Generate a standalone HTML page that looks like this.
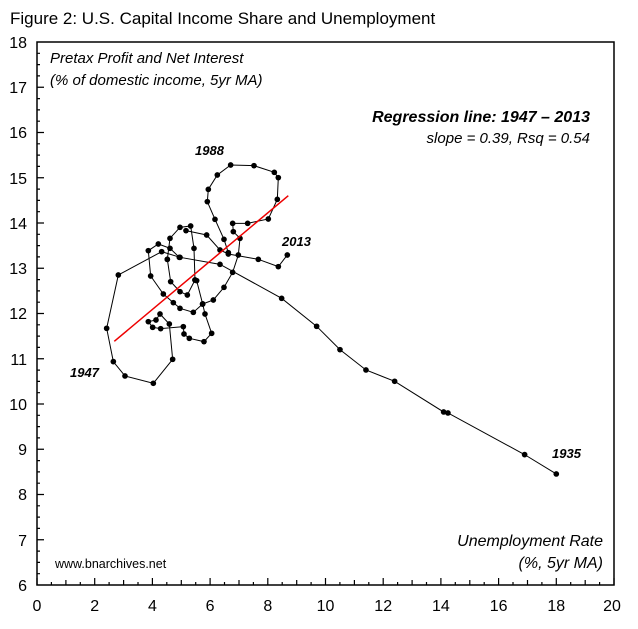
<!DOCTYPE html>
<html><head><meta charset="utf-8"><style>
body{margin:0;background:#fff}
svg{display:block;font-family:"Liberation Sans",Arial,sans-serif}
</style></head><body>
<svg width="638" height="629" viewBox="0 0 638 629" xmlns="http://www.w3.org/2000/svg">
<defs>
<marker id="dot" markerUnits="userSpaceOnUse" markerWidth="20" markerHeight="20" refX="10" refY="10" viewBox="0 0 20 20">
<circle cx="10" cy="10" r="8.5" fill="#000"/>
</marker>
</defs>
<rect width="638" height="629" fill="#fff"/>
<text x="10" y="24" font-size="17">Figure 2: U.S. Capital Income Share and Unemployment</text>
<rect x="37" y="42" width="577" height="543" fill="none" stroke="#000" stroke-width="1.5"/>
<g stroke="#000" stroke-width="1.2" fill="none">
<path d="M37 585v-7M51.4 585v-3M65.9 585v-5M80.3 585v-3M94.7 585v-7M109.1 585v-3M123.6 585v-5M138 585v-3M152.4 585v-7M166.8 585v-3M181.3 585v-5M195.7 585v-3M210.1 585v-7M224.5 585v-3M239 585v-5M253.4 585v-3M267.8 585v-7M282.2 585v-3M296.7 585v-5M311.1 585v-3M325.5 585v-7M339.9 585v-3M354.4 585v-5M368.8 585v-3M383.2 585v-7M397.6 585v-3M412.1 585v-5M426.5 585v-3M440.9 585v-7M455.3 585v-3M469.8 585v-5M484.2 585v-3M498.6 585v-7M513 585v-3M527.5 585v-5M541.9 585v-3M556.3 585v-7M570.7 585v-3M585.2 585v-5M599.6 585v-3M614 585v-7"/>
<path d="M37 573.7h3M37 562.4h3M37 551.1h3M37 539.75h7M37 528.4h3M37 517.1h3M37 505.8h3M37 494.5h7M37 483.2h3M37 471.9h3M37 460.6h3M37 449.25h7M37 437.9h3M37 426.6h3M37 415.3h3M37 404h7M37 392.7h3M37 381.4h3M37 370.1h3M37 358.75h7M37 347.4h3M37 336.1h3M37 324.8h3M37 313.5h7M37 302.2h3M37 290.9h3M37 279.6h3M37 268.25h7M37 256.9h3M37 245.6h3M37 234.3h3M37 223h7M37 211.7h3M37 200.4h3M37 189.1h3M37 177.75h7M37 166.4h3M37 155.1h3M37 143.8h3M37 132.5h7M37 121.2h3M37 109.9h3M37 98.6h3M37 87.25h7M37 75.9h3M37 64.6h3M37 53.3h3"/>
</g>
<g font-size="16" text-anchor="middle">
<text x="37" y="611">0</text><text x="94.7" y="611">2</text><text x="152.4" y="611">4</text><text x="210.1" y="611">6</text><text x="267.8" y="611">8</text><text x="325.5" y="611">10</text><text x="383.2" y="611">12</text><text x="440.9" y="611">14</text><text x="498.6" y="611">16</text><text x="556.3" y="611">18</text><text x="612" y="611">20</text>
</g>
<g font-size="16" text-anchor="end">
<text x="27" y="591">6</text><text x="27" y="546">7</text><text x="27" y="500">8</text><text x="27" y="455">9</text><text x="27" y="410">10</text><text x="27" y="365">11</text><text x="27" y="319">12</text><text x="27" y="274">13</text><text x="27" y="229">14</text><text x="27" y="184">15</text><text x="27" y="138">16</text><text x="27" y="93">17</text><text x="27" y="48">18</text>
</g>
<g font-style="italic" font-size="15">
<text x="50" y="63">Pretax Profit and Net Interest</text>
<text x="50" y="85">(% of domestic income, 5yr MA)</text>
<text x="590" y="122" text-anchor="end" font-weight="bold" font-size="16">Regression line: 1947 – 2013</text>
<text x="590" y="143" text-anchor="end">slope = 0.39, Rsq = 0.54</text>
<text x="603" y="546" text-anchor="end" font-size="16">Unemployment Rate</text>
<text x="603" y="568" text-anchor="end" font-size="16">(%, 5yr MA)</text>
</g>
<g font-style="italic" font-weight="bold" font-size="13">
<text x="195" y="155">1988</text>
<text x="282" y="246">2013</text>
<text x="70" y="377">1947</text>
<text x="552" y="458">1935</text>
</g>
<text x="55" y="568" font-size="12.5">www.bnarchives.net</text>
<g transform="translate(80,140) scale(0.3333)" stroke="#000" stroke-width="3" fill="none" marker-start="url(#dot)" marker-mid="url(#dot)" marker-end="url(#dot)">
<polyline points="1429,1002 1334,944 1104,819 1091,816 944,724 858,690 780,629 710,559 605,475 420,373 300,352 245,335 115,405 80,565 100,665 135,708 220,730 278,658 268,552 240,522 228,540 205,545 218,562 242,566 310,560 312,582 328,595 372,605 395,580 375,522 368,492 400,480 432,442 458,397 475,345 480,295 460,275 458,250 503,250 565,237 592,178 595,113 583,97 522,77 452,75 412,105 385,148 382,185 405,238 432,298 445,338"/>
<polyline points="368,492 340,517 300,505 280,488 250,462 212,408 205,332 235,312 270,325 298,352"/>
<polyline points="262,358 272,425 300,455 322,465 345,420 342,325 332,258 300,262 270,295 262,358"/>
<polyline points="318,272 380,285 420,330 445,342 535,358 595,380 622,345"/>
<polyline points="345,420 350,422 368,492"/>
</g>
<line x1="114.3" y1="341.3" x2="288.3" y2="195.7" stroke="#e00" stroke-width="1.5"/>
</svg>
</body></html>
